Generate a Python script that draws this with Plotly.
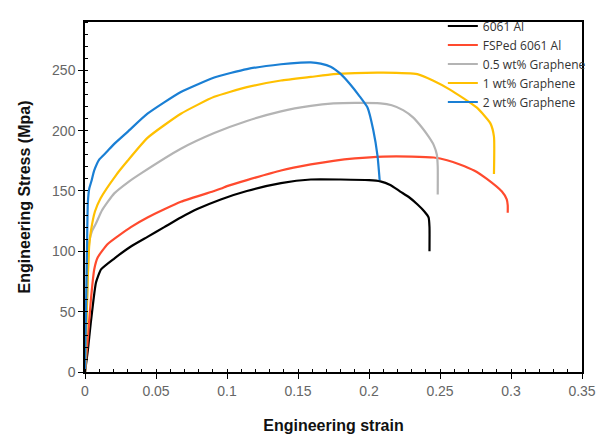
import plotly.graph_objects as go

names = ["6061 Al", "FSPed 6061 Al", "0.5 wt% Graphene", "1 wt% Graphene", "2 wt% Graphene"]
colors = ["#000000", "#ff4a2e", "#b4b4b4", "#ffc000", "#1a7fd4"]

al_x = [0, 0.002, 0.004, 0.006, 0.0077, 0.0113, 0.0206, 0.0323, 0.044, 0.0558, 0.0675, 0.079, 0.0956,
        0.114, 0.138, 0.159, 0.18, 0.2, 0.208, 0.215, 0.222, 0.228, 0.234, 0.239, 0.242, 0.2426, 0.2426]
al_y = [0, 18, 40, 60, 74, 85, 94, 104, 112, 120, 128, 135, 143, 150, 156.5, 159.5, 159.5, 159, 158, 155,
        149.5, 145, 139, 133, 128, 120, 100]

fsp_x = [0, 0.002, 0.004, 0.0065, 0.009, 0.016, 0.0323, 0.044, 0.0675, 0.091, 0.096, 0.1, 0.114, 0.138,
         0.159, 0.175, 0.19, 0.21, 0.23, 0.2456, 0.255, 0.264, 0.274, 0.283, 0.2936, 0.297, 0.2977, 0.2977]
fsp_y = [0, 28, 58, 85, 95, 106, 120, 128, 141, 150, 152, 154, 159, 167, 172, 175, 177, 178.5, 178.5,
         177.7, 175.5, 172, 167, 160, 149.5, 143, 138, 132]

g05_x = [0, 0.001, 0.002, 0.003, 0.005, 0.0077, 0.012, 0.0206, 0.03, 0.04, 0.0675, 0.091, 0.114, 0.138,
         0.159, 0.175, 0.19, 0.208, 0.216, 0.224, 0.231, 0.237, 0.242, 0.2456, 0.2478, 0.2484, 0.2484]
g05_y = [0, 40, 80, 108, 117, 123, 134, 148, 157, 165, 185, 198, 208, 216, 220.5, 222.5, 223, 222.6,
         221, 217, 211, 203, 195, 188, 180, 170, 147]

g1_x = [0, 0.001, 0.002, 0.003, 0.0042, 0.007, 0.011, 0.0218, 0.03, 0.044, 0.0675, 0.091, 0.114, 0.138,
        0.159, 0.175, 0.19, 0.21, 0.234, 0.245, 0.257, 0.276, 0.2855, 0.288, 0.288]
g1_y = [0, 40, 80, 105, 117, 133, 144, 163, 175, 194, 214, 228, 236, 241.5, 244.5, 246.8, 247.7, 248,
        246.8, 241.5, 234, 219, 206, 195, 164]

g2_x = [0, 0.0007, 0.0015, 0.002, 0.003, 0.0045, 0.0065, 0.01, 0.015, 0.0206, 0.03, 0.044, 0.0675, 0.091,
        0.114, 0.138, 0.152, 0.159, 0.166, 0.173, 0.18, 0.187, 0.193, 0.199, 0.203, 0.206, 0.2075]
g2_y = [0, 50, 110, 140, 152, 158, 167, 176, 182, 189, 199, 214, 232, 244, 251, 255, 256.3, 256.5,
        255.5, 253, 247, 238, 229, 219, 200.5, 179, 159]

xs = [al_x, fsp_x, g05_x, g1_x, g2_x]
ys = [al_y, fsp_y, g05_y, g1_y, g2_y]

x_ticks = [0, 0.05, 0.1, 0.15, 0.2, 0.25, 0.3, 0.35]
x_labels = ["0", "0.05", "0.1", "0.15", "0.2", "0.25", "0.3", "0.35"]
y_ticks = [0, 50, 100, 150, 200, 250]

fig = go.Figure()
for n, c, x, y in zip(names, colors, xs, ys):
    fig.add_trace(go.Scatter(x=x, y=y, mode="lines", name=n,
                             line=dict(color=c, width=2.2, shape="spline", smoothing=0.5)))

axis_common = dict(showline=True, linecolor="#000", linewidth=1.5, mirror=True,
                   showgrid=False, zeroline=False, ticks="outside", ticklen=5,
                   tickcolor="#000", tickwidth=1, automargin=False,
                   tickfont=dict(family="Liberation Sans, Arial", size=14, color="#666"))

fig.update_layout(
    width=603, height=436,
    margin=dict(l=85, r=21, t=12, b=64),
    paper_bgcolor="white", plot_bgcolor="white",
    xaxis=dict(range=[0, 0.35], tickvals=x_ticks, ticktext=x_labels,
               minor=dict(dtick=0.01, ticks="inside", ticklen=3, tickcolor="#000"),
               title=dict(text="<b>Engineering strain</b>", standoff=22,
                          font=dict(family="Liberation Sans, Arial", size=16, color="#111")),
               **axis_common),
    yaxis=dict(range=[0, 290], tickvals=y_ticks,
               minor=dict(dtick=10, ticks="inside", ticklen=3, tickcolor="#000"),
               title=dict(text="<b>Engineering Stress (Mpa)</b>", standoff=17,
                          font=dict(family="Liberation Sans, Arial", size=16, color="#111")),
               **axis_common),
    legend=dict(x=0.72, y=1.03, xanchor="left", yanchor="top", bgcolor="rgba(0,0,0,0)",
                font=dict(family="Open Sans", size=12, color="#333"),
                tracegroupgap=0, itemwidth=30),
    showlegend=True,
)

fig.write_html("out.html")
